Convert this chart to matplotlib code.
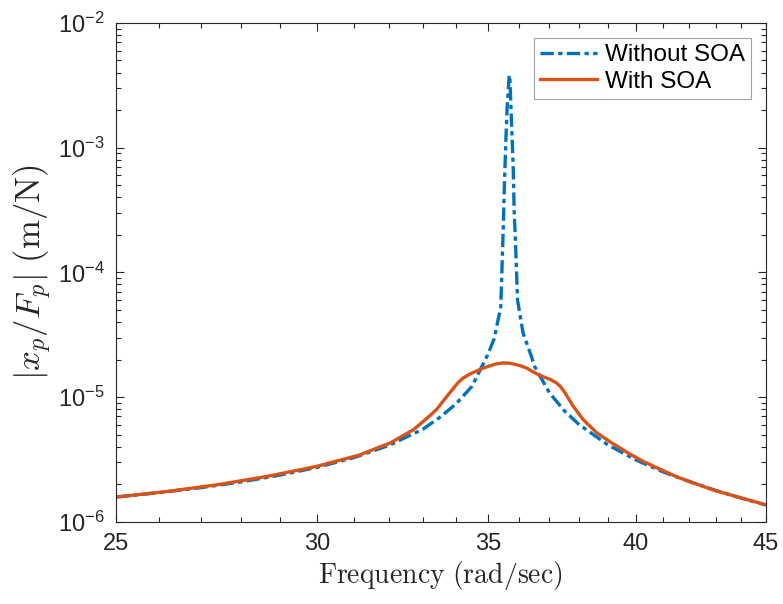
import numpy as np
import matplotlib
matplotlib.use("Agg")
import matplotlib.pyplot as plt
from matplotlib.ticker import FixedLocator, FixedFormatter, NullFormatter

plt.rcParams['font.family'] = ['Liberation Sans', 'DejaVu Sans']
plt.rcParams['mathtext.fontset'] = 'custom'
plt.rcParams['mathtext.rm'] = 'Liberation Sans'
plt.rcParams['mathtext.it'] = 'Liberation Sans:italic'

# without SOA
freq_without = [25, 26, 27, 28, 29, 30, 31, 32, 33, 33.5, 34, 34.5, 35, 35.2, 35.41,
                35.45, 35.49, 35.53, 35.57, 35.61, 35.68, 35.70, 35.76, 35.81, 35.84,
                35.89, 35.95, 36.13, 36.41, 36.5, 37, 37.5, 38, 39, 40, 41, 42, 43, 44, 45]
mag_without = [1.58e-6, 1.715e-6, 1.88e-6, 2.09e-6, 2.37e-6, 2.74e-6, 3.27e-6, 4.10e-6,
               5.53e-6, 6.85e-6, 8.8e-6, 1.22e-5, 2.2e-5, 2.95e-5, 5.3e-5,
               1.11e-4, 2.3e-4, 5.5e-4, 1.09e-3, 2.0e-3, 3.8e-3, 3.8e-3, 1.47e-3, 7.0e-4, 3.17e-4,
               1.6e-4, 6.0e-5, 3.27e-5, 2.1e-5, 1.78e-5, 1.086e-5, 7.79e-6, 6.05e-6, 4.16e-6,
               3.15e-6, 2.52e-6, 2.10e-6, 1.79e-6, 1.55e-6, 1.367e-6]

# with SOA
freq_with = [25, 26.17, 27.38, 28.65, 29.97, 31.17, 31.74, 32.03, 32.71, 32.91, 33.21,
             33.41, 33.72, 34.07, 34.22, 34.43, 34.85, 35.27, 35.49, 35.70, 36.03, 36.25,
             36.57, 36.79, 37.05, 37.24, 37.38, 37.52, 37.80, 38.15, 38.61, 39.08, 39.79,
             40.28, 41.51, 42.91, 45]
mag_with = [1.58e-6, 1.75e-6, 1.98e-6, 2.31e-6, 2.78e-6, 3.44e-6, 3.99e-6, 4.27e-6, 5.46e-6,
            6.05e-6, 7.1e-6, 7.95e-6, 1.01e-5, 1.31e-5, 1.42e-5, 1.53e-5, 1.71e-5, 1.85e-5,
            1.88e-5, 1.87e-5, 1.79e-5, 1.71e-5, 1.54e-5, 1.46e-5, 1.38e-5, 1.30e-5, 1.21e-5,
            1.09e-5, 8.5e-6, 6.6e-6, 5.2e-6, 4.4e-6, 3.5e-6, 3.05e-6, 2.3e-6, 1.8e-6, 1.37e-6]

xticks = [25, 30, 35, 40, 45]
yticks = [1e-6, 1e-5, 1e-4, 1e-3, 1e-2]
ytick_labels = ['$10^{-6}$', '$10^{-5}$', '$10^{-4}$', '$10^{-3}$', '$10^{-2}$']

blue = '#0072BD'
orange = '#D95319'
dark = '#262626'

fig = plt.figure(figsize=(7.83, 6.04), dpi=100)
ax = fig.add_axes([0.148, 0.136, 0.830, 0.826])

ax.plot(freq_without, mag_without, color=blue, lw=2.4, linestyle=(0, (4, 1.3, 1.3, 1.3)),
        label='Without SOA', solid_joinstyle='round', dash_joinstyle='round')
ax.plot(freq_with, mag_with, color=orange, lw=2.4, label='With SOA',
        solid_joinstyle='round')

ax.set_xscale('log')
ax.set_yscale('log')
ax.set_xlim(25, 45)
ax.set_ylim(1e-6, 1e-2)

ax.xaxis.set_major_locator(FixedLocator(xticks))
ax.xaxis.set_major_formatter(FixedFormatter([str(t) for t in xticks]))
ax.xaxis.set_minor_locator(FixedLocator([f for f in range(26, 45) if f not in xticks]))
ax.xaxis.set_minor_formatter(NullFormatter())
ax.yaxis.set_major_locator(FixedLocator(yticks))
ax.yaxis.set_major_formatter(FixedFormatter(ytick_labels))

ax.tick_params(which='both', direction='in', top=True, right=True, colors=dark,
               labelsize=17, width=0.8)
ax.tick_params(which='major', length=6, pad=8)
ax.tick_params(which='minor', length=3.5)
for s in ax.spines.values():
    s.set_color(dark)
    s.set_linewidth(0.8)

ax.set_xlabel(r'$\mathrm{Frequency\ (rad/sec)}$', fontsize=20, math_fontfamily='cm',
              color=dark, labelpad=3)
ax.set_ylabel(r'$|x_p/F_p|\ \mathrm{(m/N)}$', fontsize=25, math_fontfamily='cm',
              color=dark, labelpad=3)

leg = ax.legend(loc='upper right', fontsize=17.5, frameon=True, fancybox=False,
                edgecolor='#8c8c8c', borderaxespad=0.62, handlelength=2.37,
                handletextpad=0.3, borderpad=0.25, labelspacing=0.2)
leg.get_frame().set_linewidth(0.8)

fig.savefig('out.png', dpi=100)
